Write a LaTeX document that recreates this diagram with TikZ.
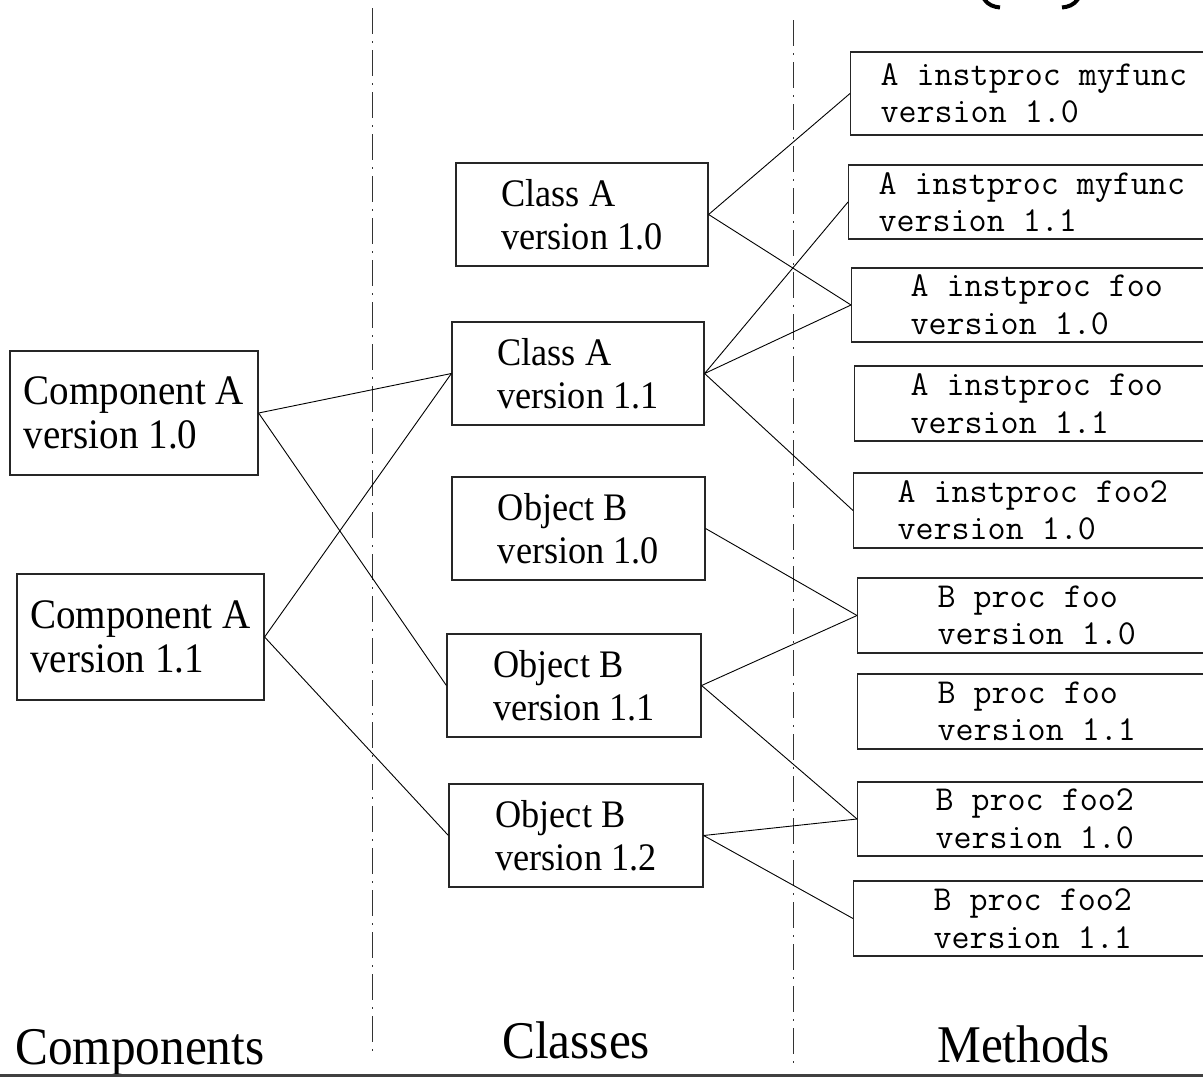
\documentclass[tikz,border=0pt]{standalone}
\usepackage{fontspec}
\setmainfont{Liberation Serif}[FakeStretch=0.93]
\begin{document}
\begin{tikzpicture}[x=1pt,y=-1pt,
  box/.style={draw=black!85, line width=1.2pt, inner sep=0pt, align=flush left},
  comp/.style={box, font=\fontsize{42}{44}\selectfont},
  cls/.style={box, font=\fontsize{39}{43}\selectfont},
  meth/.style={draw=black!85, line width=1.2pt, anchor=west, text width=330pt, align=flush left,
    inner ysep=0pt, font=\ttfamily\fontsize{35}{37.5}\selectfont},
  link/.style={line width=0.9pt, black},
  divider/.style={line width=1pt, black!80, dash pattern=on 26pt off 7pt on 2pt off 7pt},
  heading/.style={anchor=base west, inner sep=0pt, font=\fontsize{53}{57}\selectfont}]
\useasboundingbox (0,0) rectangle (1203,1077);
\clip (0,0) rectangle (1203,1077);

% dividers
\draw[divider] (372,8) -- (372,1057);
\draw[divider] (793,20) -- (793,1063);

% components
\node[comp, minimum width=248pt, minimum height=124pt] (ca0) at (134,413) {Component A\\version 1.0};
\node[comp, minimum width=247pt, minimum height=126pt] (ca1) at (140.5,637) {Component A\\version 1.1};

% classes
\node[cls, minimum width=252pt, minimum height=103pt] (cl0) at (582,214.5) {Class A\\version 1.0};
\node[cls, minimum width=252pt, minimum height=103pt] (cl1) at (578,373.5) {Class A\\version 1.1};
\node[cls, minimum width=253pt, minimum height=103pt] (ob0) at (578.5,528.5) {Object B\\version 1.0};
\node[cls, minimum width=254pt, minimum height=103pt] (ob1) at (574,685.5) {Object B\\version 1.1};
\node[cls, minimum width=254pt, minimum height=103pt] (ob2) at (576,835.5) {Object B\\version 1.2};

% methods
\node[meth, inner xsep=30pt, minimum height=83pt] (m1) at (850,93.5) {A instproc myfunc\\version 1.0};
\node[meth, inner xsep=30pt, minimum height=74pt] (m2) at (848,202) {A instproc myfunc\\version 1.1};
\node[meth, inner xsep=59pt, minimum height=74pt] (m3) at (851,305) {A instproc foo\\version 1.0};
\node[meth, inner xsep=56pt, minimum height=75pt] (m4) at (854,403.5) {A instproc foo\\version 1.1};
\node[meth, inner xsep=44pt, minimum height=75pt] (m5) at (853,510.5) {A instproc foo2\\version 1.0};
\node[meth, inner xsep=80pt, minimum height=75pt] (m6) at (857,615.5) {B proc foo\\version 1.0};
\node[meth, inner xsep=80pt, minimum height=75pt] (m7) at (857,711.5) {B proc foo\\version 1.1};
\node[meth, inner xsep=78pt, minimum height=74pt] (m8) at (857,819) {B proc foo2\\version 1.0};
\node[meth, inner xsep=80pt, minimum height=75pt] (m9) at (853,918.5) {B proc foo2\\version 1.1};

% connectors
\draw[link] (ca0.east) -- (cl1.west);
\draw[link] (ca0.east) -- (ob1.west);
\draw[link] (ca1.east) -- (cl1.west);
\draw[link] (ca1.east) -- (ob2.west);
\draw[link] (cl0.east) -- (m1.west);
\draw[link] (cl0.east) -- (m3.west);
\draw[link] (cl1.east) -- (m2.west);
\draw[link] (cl1.east) -- (m3.west);
\draw[link] (cl1.east) -- (m5.west);
\draw[link] (ob0.east) -- (m6.west);
\draw[link] (ob1.east) -- (m6.west);
\draw[link] (ob1.east) -- (m8.west);
\draw[link] (ob2.east) -- (m8.west);
\draw[link] (ob2.east) -- (m9.west);

% headings
\node[heading] (hcomp) at (15,1064) {Components};
\node[heading] (hcls) at (502,1058) {Classes};
\node[heading] (hmeth) at (937,1062) {Methods};

% bottom rule
\draw[line width=3pt, black!75] (0,1075) -- (1203,1075);

% fragments of a cut-off label at the top
\draw[line width=4pt] (984,-1) .. controls (988,5) and (994,7) .. (1000,7.5);
\draw[line width=4pt] (1078,-1) .. controls (1074,5) and (1068,7) .. (1062,7.5);
\end{tikzpicture}
\end{document}
